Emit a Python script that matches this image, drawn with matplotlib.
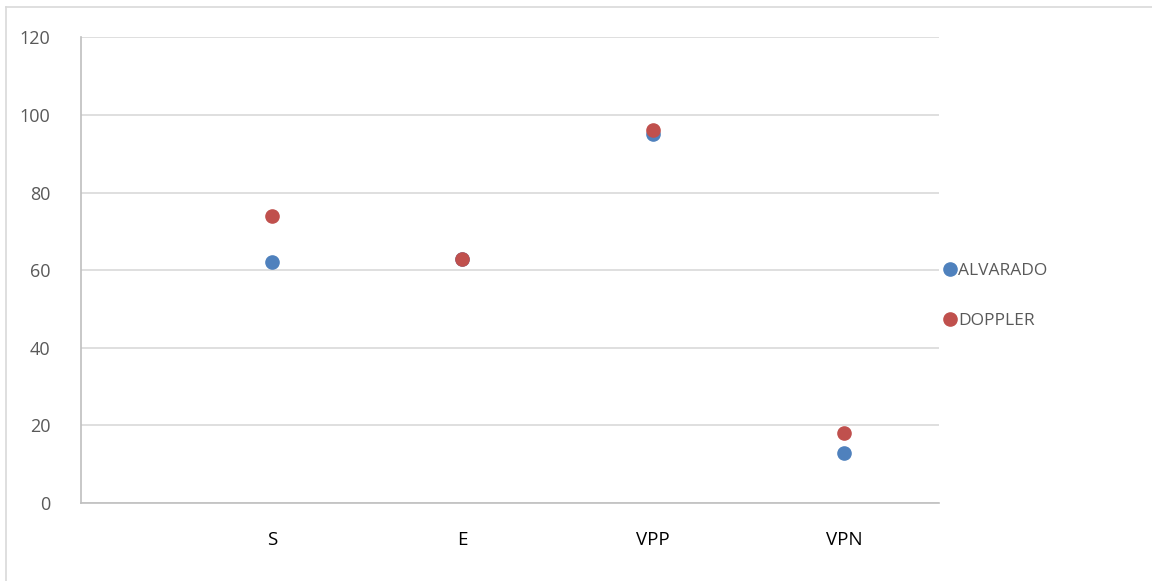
import numpy as np
import matplotlib.pyplot as plt
from matplotlib.lines import Line2D

categories = ["S", "E", "VPP", "VPN"]
alvarado = [62, 63, 95, 13]
doppler = [74, 63, 96, 18]

plt.rcParams['font.family'] = ['Open Sans', 'DejaVu Sans']

fig = plt.figure(figsize=(11.52, 5.81), dpi=100)
ax = fig.add_axes([0.0703, 0.134, 0.745, 0.802])

x = np.arange(1, len(categories) + 1)
ax.plot(x, alvarado, "o", color="#4F81BD", markersize=9.5, label="ALVARADO", zorder=3)
ax.plot(x, doppler, "o", color="#C0504D", markersize=9.5, label="DOPPLER", zorder=3)

ax.set_xlim(0, 4.5)
ax.set_ylim(0, 120)
ax.set_yticks(np.arange(0, 121, 20))
ax.set_xticks(x)
ax.set_xticklabels(categories, fontsize=13.5, color="black")
ax.tick_params(axis="x", length=0, pad=20)
ax.tick_params(axis="y", length=0, pad=22, labelsize=13, labelcolor="#595959")
ax.grid(axis="y", color="#D9D9D9", linewidth=1.2)
ax.set_axisbelow(True)
for s in ["top", "right"]:
    ax.spines[s].set_visible(False)
ax.spines["left"].set_color("#BFBFBF")
ax.spines["bottom"].set_color("#BFBFBF")
ax.spines["left"].set_linewidth(1.2)
ax.spines["bottom"].set_linewidth(1.2)

# legend on the right
fig.legend(loc="upper left", bbox_to_anchor=(0.812, 0.563), frameon=False,
           fontsize=12.5, labelcolor="#595959", handletextpad=0.1,
           labelspacing=1.95, handlelength=0.7, borderpad=0)

# light outer frame (top and left edges)
fig.add_artist(Line2D([0.005, 1.0], [0.988, 0.988], color="#D9D9D9", linewidth=1.2))
fig.add_artist(Line2D([0.005, 0.005], [0.0, 0.988], color="#D9D9D9", linewidth=1.2))

plt.savefig("out.png", dpi=100)
